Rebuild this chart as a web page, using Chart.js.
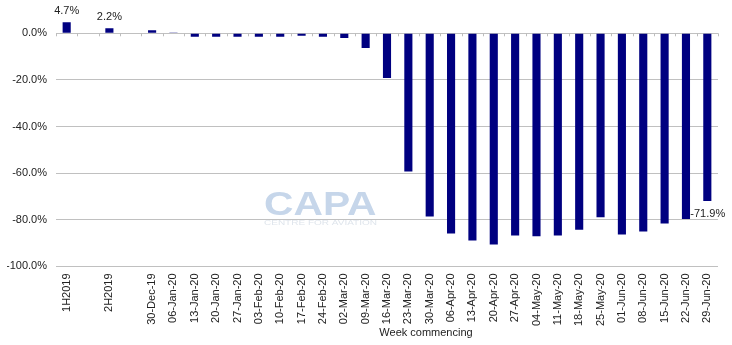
<!DOCTYPE html>
<html lang="en">
  <head>
    <meta charset="UTF-8">
    <title>Weekly capacity change</title>
    <style>
      html, body { margin: 0; padding: 0; background: #fff; }
      #wrap { width: 732px; height: 345px; position: relative; }
    </style>
  </head>
  <body>
    <div id="wrap">
      <canvas id="capacity"></canvas>
    </div>
    <script src="https://cdn.jsdelivr.net/npm/chart.js@4.4.1/dist/chart.umd.min.js"></script>
    <script>

      // half-year totals, then week-by-week change (%), blanks are spacer slots
      var weeks = ['1H2019', '', '2H2019', '', '30-Dec-19', '06-Jan-20', '13-Jan-20', '20-Jan-20',
        '27-Jan-20', '03-Feb-20', '10-Feb-20', '17-Feb-20', '24-Feb-20', '02-Mar-20', '09-Mar-20',
        '16-Mar-20', '23-Mar-20', '30-Mar-20', '06-Apr-20', '13-Apr-20', '20-Apr-20', '27-Apr-20',
        '04-May-20', '11-May-20', '18-May-20', '25-May-20', '01-Jun-20', '08-Jun-20', '15-Jun-20',
        '22-Jun-20', '29-Jun-20'];
      var change = [4.7, null, 2.2, null, 1.3, 0.4, -1.5, -1.5,
        -1.5, -1.5, -1.5, -1.0, -1.5, -2.0, -6.3,
        -19.2, -59.3, -78.6, -85.9, -88.9, -90.6, -86.7,
        -87.1, -86.7, -84.3, -78.9, -86.3, -85.0, -81.6,
        -79.7, -71.9];
      var labelled = ['1H2019', '2H2019', '29-Jun-20'];
      var yTicks = [0, -20, -40, -60, -80, -100];

      var FONT = 'Liberation Sans, Arial, sans-serif';

      // CAPA mark, sits behind the bars
      var watermark = {
        id: 'watermark',
        beforeDatasetsDraw(chart) {
          var ctx = chart.ctx, a = chart.chartArea;
          ctx.save();
          ctx.fillStyle = '#c6d6ea';
          ctx.textBaseline = 'alphabetic';
          ctx.translate(a.left + 208, a.top + 205);
          ctx.scale(1.2, 1);
          ctx.font = 'bold 34px ' + FONT;
          ctx.fillText('CAPA', 0, 0);
          ctx.restore();
          ctx.save();
          ctx.fillStyle = '#dfe5ec';
          ctx.font = '8px ' + FONT;
          ctx.textBaseline = 'middle';
          ctx.translate(a.left + 208, a.top + 213);
          ctx.scale(1.25, 1);
          ctx.fillText('CENTRE FOR AVIATION', 0, 0);
          ctx.restore();
        }
      };

      // small tick marks along the zero line + value labels + axis title
      var extras = {
        id: 'extras',
        afterDatasetsDraw(chart) {
          var ctx = chart.ctx, x = chart.scales.x, y = chart.scales.y;
          var y0 = y.getPixelForValue(0);
          var step = (x.right - x.left) / weeks.length;
          ctx.save();
          ctx.strokeStyle = '#bdbdbd';
          ctx.lineWidth = 1;
          ctx.beginPath();
          for (var i = 0; i <= weeks.length; i++) {
            var px = Math.round(x.left + i * step) + 0.5;
            ctx.moveTo(px, y0);
            ctx.lineTo(px, y0 + 3);
          }
          ctx.stroke();

          ctx.fillStyle = '#222';
          ctx.font = '11px ' + FONT;
          var bars = chart.getDatasetMeta(0).data;
          weeks.forEach(function (w, i) {
            if (labelled.indexOf(w) < 0) return;
            var v = change[i], b = bars[i];
            var txt = v.toFixed(1) + '%';
            if (v >= 0) {
              ctx.textAlign = 'center';
              ctx.textBaseline = 'bottom';
              ctx.fillText(txt, b.x, b.y - 6);
            } else {
              ctx.textAlign = 'left';
              ctx.textBaseline = 'middle';
              ctx.fillText(txt, b.x - 17, b.y + 13);
            }
          });

          ctx.textAlign = 'center';
          ctx.textBaseline = 'middle';
          ctx.fillText('Week commencing', (x.left + x.right) / 2 + 39, chart.height - 12);
          ctx.restore();
        }
      };

      new Chart(document.getElementById('capacity'), {
        type: 'bar',
        data: {
          labels: weeks,
          datasets: [{
            data: change,
            backgroundColor: '#000080',
            borderWidth: 0,
            barPercentage: 0.38,
            categoryPercentage: 1
          }]
        },
        options: {
          responsive: true,
          maintainAspectRatio: false,
          animation: false,
          layout: { padding: { left: 7, right: 14, top: 10, bottom: 12 } },
          plugins: {
            legend: { display: false },
            tooltip: { enabled: false }
          },
          scales: {
            x: {
              afterFit: function (scale) {
                scale.paddingLeft = 0;
                scale.paddingRight = 0;
              },
              grid: { display: false, drawTicks: false },
              border: { display: false },
              ticks: {
                autoSkip: false,
                minRotation: 90,
                maxRotation: 90,
                padding: 7,
                color: '#222',
                font: { family: FONT, size: 11 }
              }
            },
            y: {
              min: -100,
              max: 10,
              afterBuildTicks: function (scale) {
                scale.ticks = yTicks.map(function (v) { return { value: v }; });
              },
              afterFit: function (scale) {
                scale.width = 49;
                scale.paddingTop = 0;
                scale.paddingBottom = 0;
              },
              grid: { color: '#c0c0c0', drawTicks: false },
              border: { display: false },
              ticks: {
                padding: 9,
                color: '#222',
                font: { family: FONT, size: 11 },
                callback: function (v) { return v.toFixed(1) + '%'; }
              }
            }
          }
        },
        plugins: [watermark, extras]
      });
    </script>
  </body>
</html>
